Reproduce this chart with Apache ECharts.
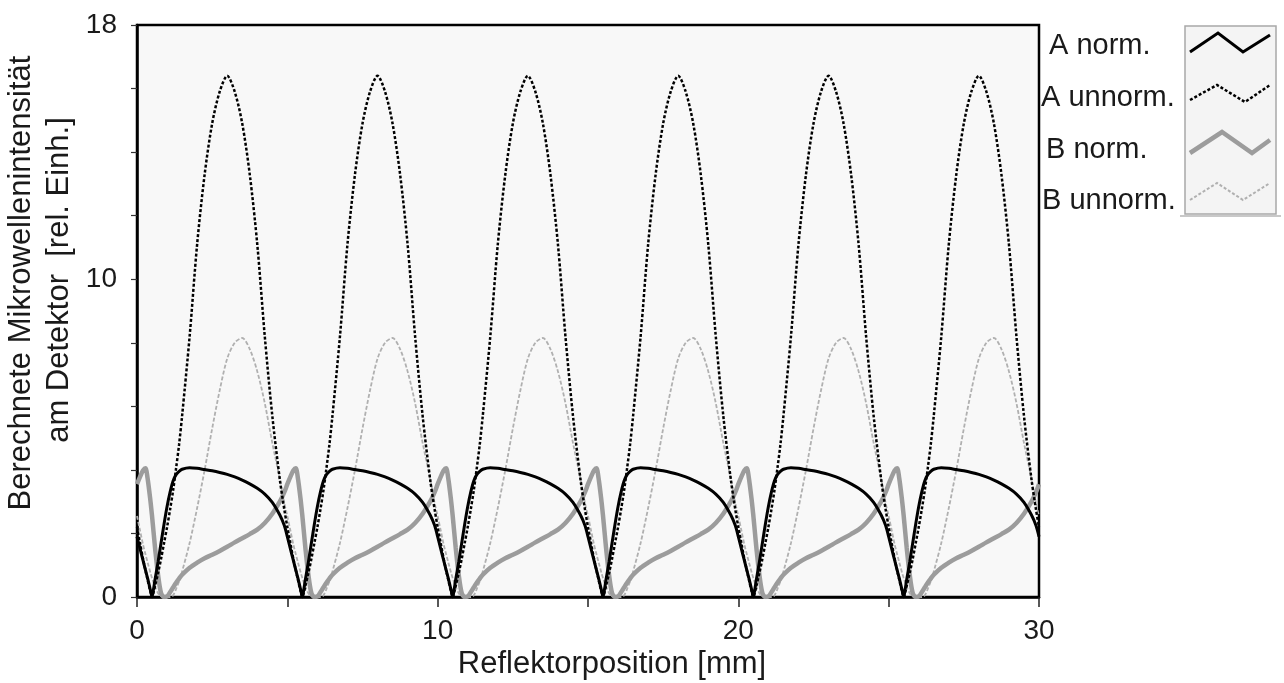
<!DOCTYPE html>
<html>
<head>
<meta charset="utf-8">
<script src="https://cdn.jsdelivr.net/npm/echarts@6/dist/echarts.min.js"></script>
<style>
html,body{margin:0;padding:0;background:#fff;}
#main{width:1284px;height:683px;}
</style>
</head>
<body>
<div id="main"></div>
<script>
// Reflector position [mm]
const xPos = [
0,0.1,0.2,0.28,0.35,0.45,0.5,0.55,0.6,0.7,0.8,0.9,1,1.1,1.2,1.3,1.4,1.5,1.75,2,2.25,2.5,2.75,3,3.25,3.5,3.75,4,4.25,4.5,4.75,4.9,
5,5.1,5.2,5.28,5.35,5.45,5.5,5.55,5.6,5.7,5.8,5.9,6,6.1,6.2,6.3,6.4,6.5,6.75,7,7.25,7.5,7.75,8,8.25,8.5,8.75,9,9.25,9.5,9.75,9.9,
10,10.1,10.2,10.28,10.35,10.45,10.5,10.55,10.6,10.7,10.8,10.9,11,11.1,11.2,11.3,11.4,11.5,11.75,12,12.25,12.5,12.75,13,13.25,13.5,13.75,14,14.25,14.5,14.75,14.9,
15,15.1,15.2,15.28,15.35,15.45,15.5,15.55,15.6,15.7,15.8,15.9,16,16.1,16.2,16.3,16.4,16.5,16.75,17,17.25,17.5,17.75,18,18.25,18.5,18.75,19,19.25,19.5,19.75,19.9,
20,20.1,20.2,20.28,20.35,20.45,20.5,20.55,20.6,20.7,20.8,20.9,21,21.1,21.2,21.3,21.4,21.5,21.75,22,22.25,22.5,22.75,23,23.25,23.5,23.75,24,24.25,24.5,24.75,24.9,
25,25.1,25.2,25.28,25.35,25.45,25.5,25.55,25.6,25.7,25.8,25.9,26,26.1,26.2,26.3,26.4,26.5,26.75,27,27.25,27.5,27.75,28,28.25,28.5,28.75,29,29.25,29.5,29.75,29.9,
30];

const aNorm = [
1.9,1.52,1.15,0.85,0.6,0.2,0,0.25,0.55,1.1,1.7,2.3,2.85,3.3,3.65,3.85,3.95,4.02,4.07,4.05,4.01,3.97,3.92,3.86,3.78,3.68,3.56,3.42,3.24,2.98,2.58,2.25,
1.9,1.52,1.15,0.85,0.6,0.2,0,0.25,0.55,1.1,1.7,2.3,2.85,3.3,3.65,3.85,3.95,4.02,4.07,4.05,4.01,3.97,3.92,3.86,3.78,3.68,3.56,3.42,3.24,2.98,2.58,2.25,
1.9,1.52,1.15,0.85,0.6,0.2,0,0.25,0.55,1.1,1.7,2.3,2.85,3.3,3.65,3.85,3.95,4.02,4.07,4.05,4.01,3.97,3.92,3.86,3.78,3.68,3.56,3.42,3.24,2.98,2.58,2.25,
1.9,1.52,1.15,0.85,0.6,0.2,0,0.25,0.55,1.1,1.7,2.3,2.85,3.3,3.65,3.85,3.95,4.02,4.07,4.05,4.01,3.97,3.92,3.86,3.78,3.68,3.56,3.42,3.24,2.98,2.58,2.25,
1.9,1.52,1.15,0.85,0.6,0.2,0,0.25,0.55,1.1,1.7,2.3,2.85,3.3,3.65,3.85,3.95,4.02,4.07,4.05,4.01,3.97,3.92,3.86,3.78,3.68,3.56,3.42,3.24,2.98,2.58,2.25,
1.9,1.52,1.15,0.85,0.6,0.2,0,0.25,0.55,1.1,1.7,2.3,2.85,3.3,3.65,3.85,3.95,4.02,4.07,4.05,4.01,3.97,3.92,3.86,3.78,3.68,3.56,3.42,3.24,2.98,2.58,2.25,
1.9];

const aUnnorm = [
2.2,1.7,1.2,0.85,0.55,0.15,0,0.15,0.35,0.75,1.2,1.7,2.2,2.75,3.35,4.05,4.8,5.7,8.2,11.1,13.3,14.9,15.9,16.4,15.9,14.9,13.3,11.1,8.2,5.7,3.7,2.75,
2.2,1.7,1.2,0.85,0.55,0.15,0,0.15,0.35,0.75,1.2,1.7,2.2,2.75,3.35,4.05,4.8,5.7,8.2,11.1,13.3,14.9,15.9,16.4,15.9,14.9,13.3,11.1,8.2,5.7,3.7,2.75,
2.2,1.7,1.2,0.85,0.55,0.15,0,0.15,0.35,0.75,1.2,1.7,2.2,2.75,3.35,4.05,4.8,5.7,8.2,11.1,13.3,14.9,15.9,16.4,15.9,14.9,13.3,11.1,8.2,5.7,3.7,2.75,
2.2,1.7,1.2,0.85,0.55,0.15,0,0.15,0.35,0.75,1.2,1.7,2.2,2.75,3.35,4.05,4.8,5.7,8.2,11.1,13.3,14.9,15.9,16.4,15.9,14.9,13.3,11.1,8.2,5.7,3.7,2.75,
2.2,1.7,1.2,0.85,0.55,0.15,0,0.15,0.35,0.75,1.2,1.7,2.2,2.75,3.35,4.05,4.8,5.7,8.2,11.1,13.3,14.9,15.9,16.4,15.9,14.9,13.3,11.1,8.2,5.7,3.7,2.75,
2.2,1.7,1.2,0.85,0.55,0.15,0,0.15,0.35,0.75,1.2,1.7,2.2,2.75,3.35,4.05,4.8,5.7,8.2,11.1,13.3,14.9,15.9,16.4,15.9,14.9,13.3,11.1,8.2,5.7,3.7,2.75,
2.2];

const bNorm = [
3.55,3.78,3.98,4.05,3.75,3.0,2.55,2.05,1.55,0.7,0.12,0,0.02,0.15,0.3,0.45,0.58,0.7,0.92,1.08,1.22,1.33,1.45,1.58,1.72,1.85,1.98,2.12,2.33,2.62,3.0,3.3,
3.55,3.78,3.98,4.05,3.75,3.0,2.55,2.05,1.55,0.7,0.12,0,0.02,0.15,0.3,0.45,0.58,0.7,0.92,1.08,1.22,1.33,1.45,1.58,1.72,1.85,1.98,2.12,2.33,2.62,3.0,3.3,
3.55,3.78,3.98,4.05,3.75,3.0,2.55,2.05,1.55,0.7,0.12,0,0.02,0.15,0.3,0.45,0.58,0.7,0.92,1.08,1.22,1.33,1.45,1.58,1.72,1.85,1.98,2.12,2.33,2.62,3.0,3.3,
3.55,3.78,3.98,4.05,3.75,3.0,2.55,2.05,1.55,0.7,0.12,0,0.02,0.15,0.3,0.45,0.58,0.7,0.92,1.08,1.22,1.33,1.45,1.58,1.72,1.85,1.98,2.12,2.33,2.62,3.0,3.3,
3.55,3.78,3.98,4.05,3.75,3.0,2.55,2.05,1.55,0.7,0.12,0,0.02,0.15,0.3,0.45,0.58,0.7,0.92,1.08,1.22,1.33,1.45,1.58,1.72,1.85,1.98,2.12,2.33,2.62,3.0,3.3,
3.55,3.78,3.98,4.05,3.75,3.0,2.55,2.05,1.55,0.7,0.12,0,0.02,0.15,0.3,0.45,0.58,0.7,0.92,1.08,1.22,1.33,1.45,1.58,1.72,1.85,1.98,2.12,2.33,2.62,3.0,3.3,
3.55];

const bUnnorm = [
2.55,2.1,1.65,1.35,1.1,0.75,0.6,0.45,0.33,0.12,0.02,0,0,0,0.05,0.25,0.5,0.8,1.7,2.8,4.0,5.3,6.5,7.5,8.0,8.15,7.8,7.1,6.1,4.85,3.72,2.95,
2.55,2.1,1.65,1.35,1.1,0.75,0.6,0.45,0.33,0.12,0.02,0,0,0,0.05,0.25,0.5,0.8,1.7,2.8,4.0,5.3,6.5,7.5,8.0,8.15,7.8,7.1,6.1,4.85,3.72,2.95,
2.55,2.1,1.65,1.35,1.1,0.75,0.6,0.45,0.33,0.12,0.02,0,0,0,0.05,0.25,0.5,0.8,1.7,2.8,4.0,5.3,6.5,7.5,8.0,8.15,7.8,7.1,6.1,4.85,3.72,2.95,
2.55,2.1,1.65,1.35,1.1,0.75,0.6,0.45,0.33,0.12,0.02,0,0,0,0.05,0.25,0.5,0.8,1.7,2.8,4.0,5.3,6.5,7.5,8.0,8.15,7.8,7.1,6.1,4.85,3.72,2.95,
2.55,2.1,1.65,1.35,1.1,0.75,0.6,0.45,0.33,0.12,0.02,0,0,0,0.05,0.25,0.5,0.8,1.7,2.8,4.0,5.3,6.5,7.5,8.0,8.15,7.8,7.1,6.1,4.85,3.72,2.95,
2.55,2.1,1.65,1.35,1.1,0.75,0.6,0.45,0.33,0.12,0.02,0,0,0,0.05,0.25,0.5,0.8,1.7,2.8,4.0,5.3,6.5,7.5,8.0,8.15,7.8,7.1,6.1,4.85,3.72,2.95,
2.55];

const seriesNames = ['A norm.', 'A unnorm.', 'B norm.', 'B unnorm.'];
const xTickLabels = [0, 10, 20, 30];
const yTickLabels = [0, 10, 18];
const xTitle = 'Reflektorposition [mm]';
const yTitle1 = 'Berechnete Mikrowellenintensität';
const yTitle2 = 'am Detektor  [rel. Einh.]';

const FONT = "'Liberation Sans', Arial, sans-serif";
const pair = arr => xPos.map((x, i) => [x, arr[i]]);

const chart = echarts.init(document.getElementById('main'), null, {renderer: 'canvas'});

function icon(points, stroke, width, dash) {
  return {
    type: 'polyline',
    shape: {points: points},
    style: {stroke: stroke, lineWidth: width, lineDash: dash || null, fill: null},
    z: 100
  };
}
function txt(x, y, text, size, align, rot) {
  return {
    type: 'text', x: x, y: y, z: 100, rotation: rot || 0,
    style: {text: text, font: size + 'px ' + FONT, fill: '#1a1a1a', textAlign: align || 'left', textVerticalAlign: 'middle'}
  };
}

const option = {
  backgroundColor: '#ffffff',
  animation: false,
  grid: {
    left: 137, right: 245, top: 25, bottom: 86,
    show: true, backgroundColor: '#f8f8f8', borderColor: '#000', borderWidth: 2.5
  },
  xAxis: {
    type: 'value', min: 0, max: 30, interval: 5,
    axisLine: {show: true, onZero: false, lineStyle: {color: '#000', width: 2.5}},
    axisTick: {show: true, length: 10, lineStyle: {color: '#222', width: 1.5}},
    splitLine: {show: false},
    axisLabel: {
      margin: 20, fontSize: 28, fontFamily: FONT, color: '#1a1a1a',
      formatter: v => xTickLabels.indexOf(v) >= 0 ? String(v) : ''
    }
  },
  yAxis: {
    type: 'value', min: 0, max: 18, interval: 2,
    axisLine: {show: true, lineStyle: {color: '#000', width: 2.5}},
    axisTick: {show: true, length: 6, lineStyle: {color: '#333', width: 1.2}},
    splitLine: {show: false},
    axisLabel: {
      margin: 20, fontSize: 28, fontFamily: FONT, color: '#1a1a1a', showMaxLabel: true,
      formatter: v => yTickLabels.indexOf(v) >= 0 ? String(v) : ''
    }
  },
  series: [
    {name: seriesNames[3], type: 'line', data: pair(bUnnorm), showSymbol: false, smooth: 0.3,
     lineStyle: {color: '#b0b0b0', width: 1.8, type: [4, 2]}, z: 2},
    {name: seriesNames[2], type: 'line', data: pair(bNorm), showSymbol: false, smooth: 0.3,
     lineStyle: {color: '#9c9c9c', width: 4.5}, z: 3},
    {name: seriesNames[1], type: 'line', data: pair(aUnnorm), showSymbol: false, smooth: 0.3,
     lineStyle: {color: '#000', width: 2.5, type: [3, 2]}, z: 4},
    {name: seriesNames[0], type: 'line', data: pair(aNorm), showSymbol: false, smooth: 0.3,
     lineStyle: {color: '#000', width: 3}, z: 5}
  ],
  graphic: [
    txt(21, 283, yTitle1, 31, 'center', Math.PI / 2),
    txt(59, 280, yTitle2, 31, 'center', Math.PI / 2),
    txt(612, 664, xTitle, 31, 'center'),
    {type: 'rect', shape: {x: 1185, y: 26, width: 91, height: 188},
     style: {fill: '#f4f4f4', stroke: '#a8a8a8', lineWidth: 1.5}, z: 90},
    {type: 'line', shape: {x1: 1180, y1: 216, x2: 1281, y2: 216}, style: {stroke: '#c8c8c8', lineWidth: 2}, z: 90},
    icon([[1190, 52], [1218, 33], [1243, 52], [1270, 35]], '#000', 3),
    icon([[1190, 100], [1217, 85], [1245, 102], [1270, 85]], '#000', 2.5, [3, 2]),
    icon([[1190, 153], [1222, 132], [1252, 153], [1270, 140]], '#9c9c9c', 4.5),
    icon([[1190, 200], [1217, 183], [1243, 200], [1270, 183]], '#b0b0b0', 2, [3, 2]),
    txt(1049, 46, seriesNames[0], 29),
    txt(1041, 98, seriesNames[1], 29),
    txt(1046, 150, seriesNames[2], 29),
    txt(1042, 201, seriesNames[3], 29)
  ]
};
chart.setOption(option);
</script>
</body>
</html>
